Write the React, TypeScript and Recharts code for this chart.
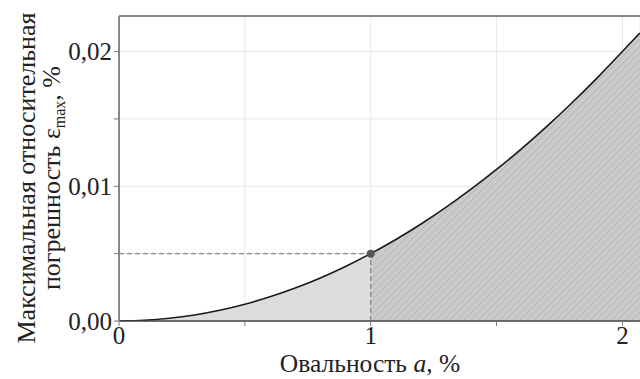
import {
  ComposedChart, Area, Line, XAxis, YAxis, CartesianGrid,
  ReferenceLine, ReferenceDot,
} from "recharts"

// овальность a, %
const ovality = [0, 0.1, 0.2, 0.3, 0.4, 0.5, 0.6, 0.7, 0.8, 0.9, 1.0,
  1.1, 1.2, 1.3, 1.4, 1.5, 1.6, 1.7, 1.8, 1.9, 2.0, 2.07]
// максимальная относительная погрешность, %
const errMax = [0, 0.00005, 0.0002, 0.00045, 0.0008, 0.00125, 0.0018, 0.00245, 0.0032, 0.00405, 0.005,
  0.00605, 0.0072, 0.00845, 0.0098, 0.01125, 0.0128, 0.01445, 0.0162, 0.01805, 0.02, 0.0214]

const xTicks = [0, 0.5, 1, 1.5, 2]
const yTicks = [0, 0.005, 0.01, 0.015, 0.02]
const xLabels: Record<number, string> = { 0: "0", 1: "1", 2: "2" }
const yLabels: Record<number, string> = { 0: "0,00", 0.01: "0,01", 0.02: "0,02" }

const limitA = 1
const limitErr = 0.005
const xMax = 2.07
const yMax = 0.02264

const data = ovality.map((a, i) => ({
  a,
  err: errMax[i],
  left: a <= limitA ? errMax[i] : null,
  right: a >= limitA ? errMax[i] : null,
}))

const font = "'Liberation Serif', 'Times New Roman', serif"
const ink = "#222"

function YTitle() {
  return (
    <g transform="translate(0,178) rotate(-90)" fontFamily={font} fontSize={26} fill={ink}>
      <text x={0} y={35} textAnchor="middle">Максимальная относительная</text>
      <text x={0} y={60} textAnchor="middle">
        погрешность ε
        <tspan fontSize={16} dy={5}>max</tspan>
        <tspan dy={-5}>, %</tspan>
      </text>
    </g>
  )
}

function XTitle() {
  return (
    <text x={370} y={372} textAnchor="middle" fontFamily={font} fontSize={25.5} fill={ink}>
      Овальность <tspan fontStyle="italic">a</tspan>, %
    </text>
  )
}

export default function App() {
  return (
    <div style={{ position: "absolute", left: 0, top: 0 }}>
      <ComposedChart width={640} height={379} data={data}
        margin={{ top: 16, right: 0, left: 0, bottom: 18 }}>
        <defs>
          <pattern id="hatch" patternUnits="userSpaceOnUse" width={7} height={7}>
            <rect width={7} height={7} fill="#cbcbcb" />
            <path d="M-1,1 l2,-2 M0,7 l7,-7 M6,8 l2,-2" stroke="#aaaaaa" strokeWidth={0.7} />
          </pattern>
        </defs>
        <CartesianGrid stroke="#e8e8e8" />
        <XAxis
          dataKey="a" type="number" domain={[0, xMax]} ticks={xTicks}
          allowDataOverflow height={40}
          tickFormatter={(v) => xLabels[v] ?? ""}
          tick={{ fontSize: 25, fontFamily: font, fill: ink, dy: -2 }}
          tickSize={5} tickLine={{ stroke: "#777" }}
          axisLine={{ stroke: "#444", strokeWidth: 1.5 }}
          label={{ content: () => <XTitle /> }}
        />
        <YAxis
          type="number" domain={[0, yMax]} ticks={yTicks} allowDataOverflow width={119}
          tickFormatter={(v) => yLabels[v] ?? ""}
          tick={{ fontSize: 25, fontFamily: font, fill: ink }}
          tickSize={5} tickLine={{ stroke: "#777" }}
          axisLine={{ stroke: "#888", strokeWidth: 2 }}
          label={{ content: () => <YTitle /> }}
        />
        <ReferenceLine y={yMax} stroke="#888" strokeWidth={2} />
        <Area dataKey="left" type="monotone" fill="#dcdcdd" fillOpacity={1} stroke="none" isAnimationActive={false} />
        <Area dataKey="right" type="monotone" fill="url(#hatch)" fillOpacity={1} stroke="none" isAnimationActive={false} />
        <ReferenceLine segment={[{ x: 0, y: limitErr }, { x: limitA, y: limitErr }]} stroke="#888" strokeDasharray="5 3" strokeWidth={1.3} />
        <ReferenceLine segment={[{ x: limitA, y: 0 }, { x: limitA, y: limitErr }]} stroke="#888" strokeDasharray="5 3" strokeWidth={1.3} />
        <Line dataKey="err" type="monotone" stroke="#1a1a1a" strokeWidth={1.6} dot={false} isAnimationActive={false} />
        <ReferenceDot x={limitA} y={limitErr} r={4} fill="#555" stroke="none" />
      </ComposedChart>
    </div>
  )
}
